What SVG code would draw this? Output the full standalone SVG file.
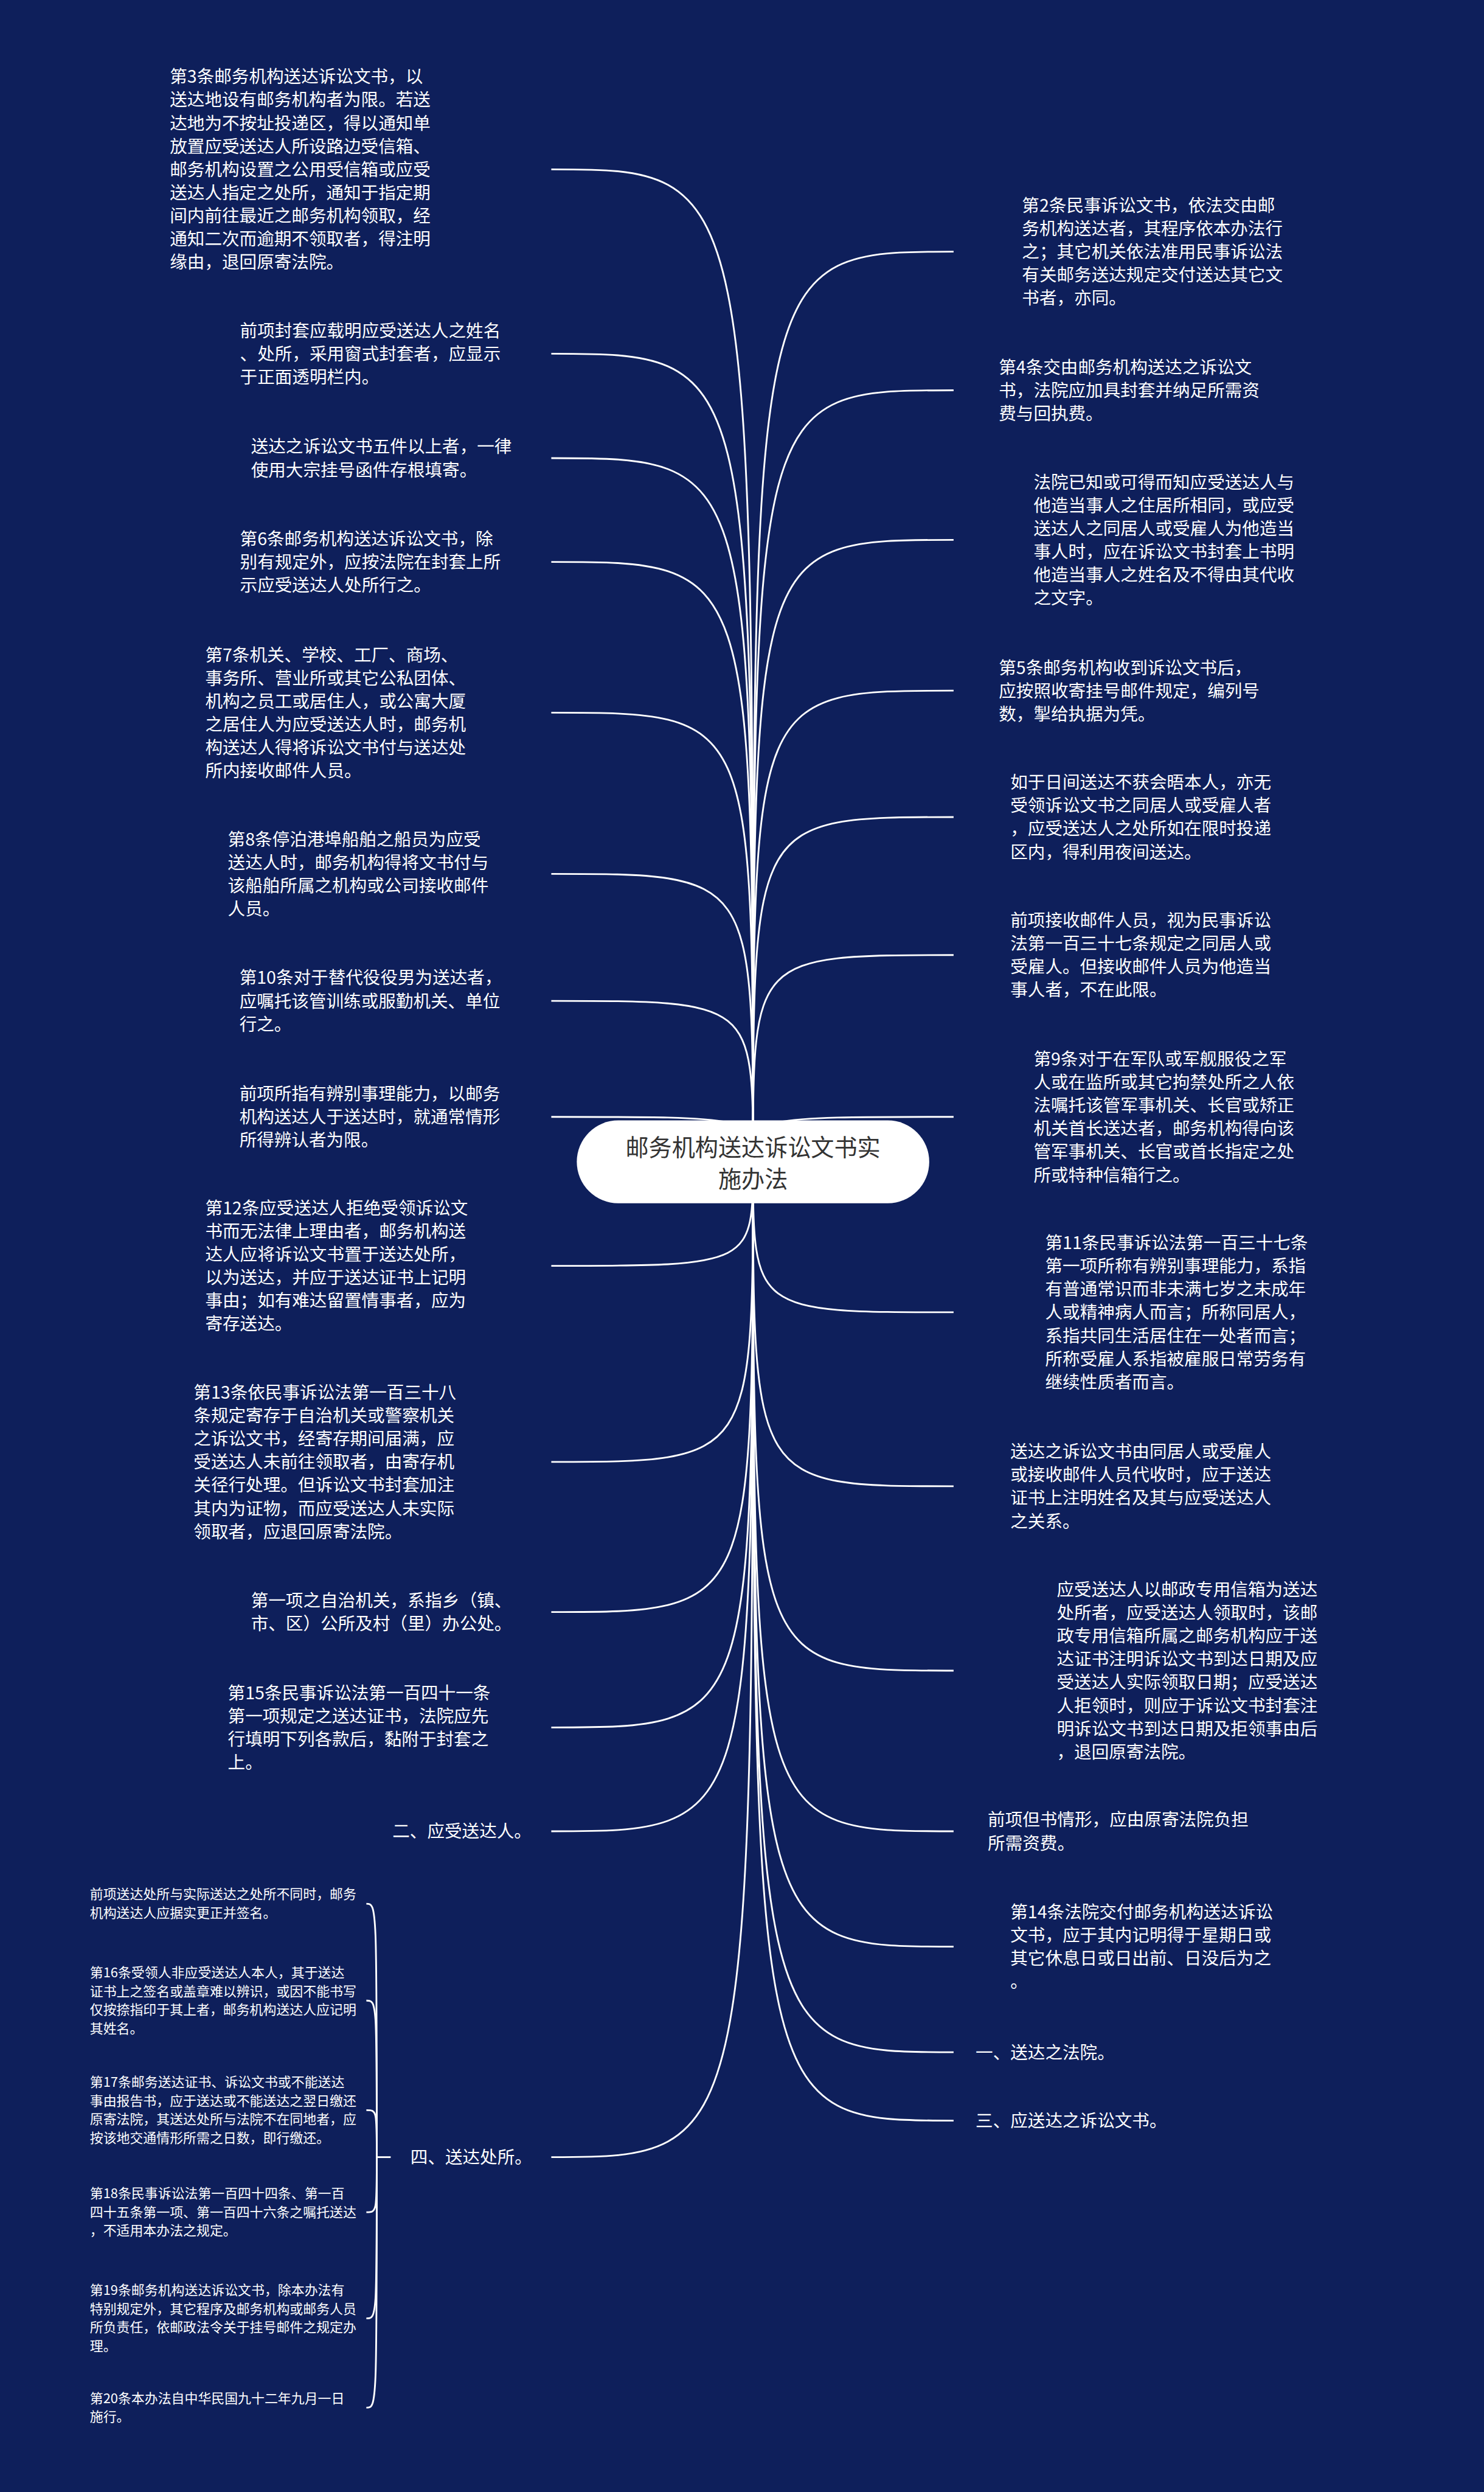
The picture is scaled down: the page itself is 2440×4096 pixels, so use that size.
<svg xmlns="http://www.w3.org/2000/svg" width="2440" height="4096" viewBox="0 0 2440 4096">
<style>
.t{font-family:"Noto Sans CJK SC","Noto Sans",sans-serif;font-size:30px;fill:#ffffff}
.s{font-size:23px}
.c{fill:none;stroke:#ffffff;stroke-width:3}
.root-t{font-family:"Noto Sans CJK SC","Noto Sans",sans-serif;font-size:40px;fill:#333333}
</style>
<rect x="0" y="0" width="2440" height="4096" fill="#0e1f5b"/>
<g transform="scale(0.953125)">
<g id="connectors">
<path class="c" d="M951 292 C1299 292 1299 292 1299 2003"/>
<path class="c" d="M951 610 C1299 610 1299 610 1299 2003"/>
<path class="c" d="M951 790 C1299 790 1299 790 1299 2003"/>
<path class="c" d="M951 969 C1299 969 1299 969 1299 2003"/>
<path class="c" d="M951 1229 C1299 1229 1299 1229 1299 2003"/>
<path class="c" d="M951 1507 C1299 1507 1299 1507 1299 2003"/>
<path class="c" d="M951 1726 C1299 1726 1299 1726 1299 2003"/>
<path class="c" d="M951 1926 C1299 1926 1299 1926 1299 2003"/>
<path class="c" d="M951 2183 C1299 2183 1299 2183 1299 2003"/>
<path class="c" d="M951 2521 C1299 2521 1299 2521 1299 2003"/>
<path class="c" d="M951 2780 C1299 2780 1299 2780 1299 2003"/>
<path class="c" d="M951 2979 C1299 2979 1299 2979 1299 2003"/>
<path class="c" d="M951 3158 C1299 3158 1299 3158 1299 2003"/>
<path class="c" d="M951 3720 C1299 3720 1299 3720 1299 2003"/>
<path class="c" d="M1645 434 C1299 434 1299 434 1299 2003"/>
<path class="c" d="M1645 673 C1299 673 1299 673 1299 2003"/>
<path class="c" d="M1645 931 C1299 931 1299 931 1299 2003"/>
<path class="c" d="M1645 1191 C1299 1191 1299 1191 1299 2003"/>
<path class="c" d="M1645 1409 C1299 1409 1299 1409 1299 2003"/>
<path class="c" d="M1645 1647 C1299 1647 1299 1647 1299 2003"/>
<path class="c" d="M1645 1926 C1299 1926 1299 1926 1299 2003"/>
<path class="c" d="M1645 2263 C1299 2263 1299 2263 1299 2003"/>
<path class="c" d="M1645 2563 C1299 2563 1299 2563 1299 2003"/>
<path class="c" d="M1645 2881 C1299 2881 1299 2881 1299 2003"/>
<path class="c" d="M1645 3158 C1299 3158 1299 3158 1299 2003"/>
<path class="c" d="M1645 3357 C1299 3357 1299 3357 1299 2003"/>
<path class="c" d="M1645 3539 C1299 3539 1299 3539 1299 2003"/>
<path class="c" d="M1645 3657 C1299 3657 1299 3657 1299 2003"/>
<path class="c" d="M674 3720 H650"/>
<path class="c" d="M632 3283 C650 3283 650 3283 650 3720"/>
<path class="c" d="M632 3450 C650 3450 650 3450 650 3720"/>
<path class="c" d="M632 3639 C650 3639 650 3639 650 3720"/>
<path class="c" d="M632 3815 C650 3815 650 3815 650 3720"/>
<path class="c" d="M632 3998 C650 3998 650 3998 650 3720"/>
<path class="c" d="M632 4152 C650 4152 650 4152 650 3720"/>
</g>
<g id="root">
<rect x="995" y="1932" width="608" height="143" rx="71.5" fill="#ffffff"/>
<text class="root-t" text-anchor="middle"><tspan x="1299" y="1993">邮务机构送达诉讼文书实</tspan><tspan x="1299" y="2048">施办法</tspan></text>
</g>
<g id="L1"><text class="t"><tspan x="293" y="143">第3条邮务机构送达诉讼文书，以</tspan><tspan x="293" y="183">送达地设有邮务机构者为限。若送</tspan><tspan x="293" y="223">达地为不按址投递区，得以通知单</tspan><tspan x="293" y="263">放置应受送达人所设路边受信箱、</tspan><tspan x="293" y="303">邮务机构设置之公用受信箱或应受</tspan><tspan x="293" y="343">送达人指定之处所，通知于指定期</tspan><tspan x="293" y="383">间内前往最近之邮务机构领取，经</tspan><tspan x="293" y="423">通知二次而逾期不领取者，得注明</tspan><tspan x="293" y="463">缘由，退回原寄法院。</tspan></text></g>
<g id="L2"><text class="t"><tspan x="414" y="581">前项封套应载明应受送达人之姓名</tspan><tspan x="414" y="621">、处所，采用窗式封套者，应显示</tspan><tspan x="414" y="661">于正面透明栏内。</tspan></text></g>
<g id="L3"><text class="t"><tspan x="433" y="781">送达之诉讼文书五件以上者，一律</tspan><tspan x="433" y="821">使用大宗挂号函件存根填寄。</tspan></text></g>
<g id="L4"><text class="t"><tspan x="414" y="940">第6条邮务机构送达诉讼文书，除</tspan><tspan x="414" y="980">别有规定外，应按法院在封套上所</tspan><tspan x="414" y="1020">示应受送达人处所行之。</tspan></text></g>
<g id="L5"><text class="t"><tspan x="354" y="1140">第7条机关、学校、工厂、商场、</tspan><tspan x="354" y="1180">事务所、营业所或其它公私团体、</tspan><tspan x="354" y="1220">机构之员工或居住人，或公寓大厦</tspan><tspan x="354" y="1260">之居住人为应受送达人时，邮务机</tspan><tspan x="354" y="1300">构送达人得将诉讼文书付与送达处</tspan><tspan x="354" y="1340">所内接收邮件人员。</tspan></text></g>
<g id="L6"><text class="t"><tspan x="393" y="1458">第8条停泊港埠船舶之船员为应受</tspan><tspan x="393" y="1498">送达人时，邮务机构得将文书付与</tspan><tspan x="393" y="1538">该船舶所属之机构或公司接收邮件</tspan><tspan x="393" y="1578">人员。</tspan></text></g>
<g id="L7"><text class="t"><tspan x="413" y="1697">第10条对于替代役役男为送达者，</tspan><tspan x="413" y="1737">应嘱托该管训练或服勤机关、单位</tspan><tspan x="413" y="1777">行之。</tspan></text></g>
<g id="L8"><text class="t"><tspan x="413" y="1897">前项所指有辨别事理能力，以邮务</tspan><tspan x="413" y="1937">机构送达人于送达时，就通常情形</tspan><tspan x="413" y="1977">所得辨认者为限。</tspan></text></g>
<g id="L9"><text class="t"><tspan x="354" y="2094">第12条应受送达人拒绝受领诉讼文</tspan><tspan x="354" y="2134">书而无法律上理由者，邮务机构送</tspan><tspan x="354" y="2174">达人应将诉讼文书置于送达处所，</tspan><tspan x="354" y="2214">以为送达，并应于送达证书上记明</tspan><tspan x="354" y="2254">事由；如有难达留置情事者，应为</tspan><tspan x="354" y="2294">寄存送达。</tspan></text></g>
<g id="L10"><text class="t"><tspan x="334" y="2412">第13条依民事诉讼法第一百三十八</tspan><tspan x="334" y="2452">条规定寄存于自治机关或警察机关</tspan><tspan x="334" y="2492">之诉讼文书，经寄存期间届满，应</tspan><tspan x="334" y="2532">受送达人未前往领取者，由寄存机</tspan><tspan x="334" y="2572">关径行处理。但诉讼文书封套加注</tspan><tspan x="334" y="2612">其内为证物，而应受送达人未实际</tspan><tspan x="334" y="2652">领取者，应退回原寄法院。</tspan></text></g>
<g id="L11"><text class="t"><tspan x="433" y="2771">第一项之自治机关，系指乡（镇、</tspan><tspan x="433" y="2811">市、区）公所及村（里）办公处。</tspan></text></g>
<g id="L12"><text class="t"><tspan x="393" y="2930">第15条民事诉讼法第一百四十一条</tspan><tspan x="393" y="2970">第一项规定之送达证书，法院应先</tspan><tspan x="393" y="3010">行填明下列各款后，黏附于封套之</tspan><tspan x="393" y="3050">上。</tspan></text></g>
<g id="L13"><text class="t" x="677" y="3169">二、应受送达人。</text></g>
<g id="L14"><text class="t" x="708" y="3731">四、送达处所。</text></g>
<g id="S1"><text class="t s"><tspan x="155" y="3275">前项送达处所与实际送达之处所不同时，邮务</tspan><tspan x="155" y="3307">机构送达人应据实更正并签名。</tspan></text></g>
<g id="S2"><text class="t s"><tspan x="155" y="3410">第16条受领人非应受送达人本人，其于送达</tspan><tspan x="155" y="3442">证书上之签名或盖章难以辨识，或因不能书写</tspan><tspan x="155" y="3474">仅按捺指印于其上者，邮务机构送达人应记明</tspan><tspan x="155" y="3506">其姓名。</tspan></text></g>
<g id="S3"><text class="t s"><tspan x="155" y="3599">第17条邮务送达证书、诉讼文书或不能送达</tspan><tspan x="155" y="3631">事由报告书，应于送达或不能送达之翌日缴还</tspan><tspan x="155" y="3663">原寄法院，其送达处所与法院不在同地者，应</tspan><tspan x="155" y="3695">按该地交通情形所需之日数，即行缴还。</tspan></text></g>
<g id="S4"><text class="t s"><tspan x="155" y="3791">第18条民事诉讼法第一百四十四条、第一百</tspan><tspan x="155" y="3823">四十五条第一项、第一百四十六条之嘱托送达</tspan><tspan x="155" y="3855">，不适用本办法之规定。</tspan></text></g>
<g id="S5"><text class="t s"><tspan x="155" y="3958">第19条邮务机构送达诉讼文书，除本办法有</tspan><tspan x="155" y="3990">特别规定外，其它程序及邮务机构或邮务人员</tspan><tspan x="155" y="4022">所负责任，依邮政法令关于挂号邮件之规定办</tspan><tspan x="155" y="4054">理。</tspan></text></g>
<g id="S6"><text class="t s"><tspan x="155" y="4144">第20条本办法自中华民国九十二年九月一日</tspan><tspan x="155" y="4176">施行。</tspan></text></g>
<g id="R1"><text class="t"><tspan x="1763" y="365">第2条民事诉讼文书，依法交由邮</tspan><tspan x="1763" y="405">务机构送达者，其程序依本办法行</tspan><tspan x="1763" y="445">之；其它机关依法准用民事诉讼法</tspan><tspan x="1763" y="485">有关邮务送达规定交付送达其它文</tspan><tspan x="1763" y="525">书者，亦同。</tspan></text></g>
<g id="R2"><text class="t"><tspan x="1723" y="644">第4条交由邮务机构送达之诉讼文</tspan><tspan x="1723" y="684">书，法院应加具封套并纳足所需资</tspan><tspan x="1723" y="724">费与回执费。</tspan></text></g>
<g id="R3"><text class="t"><tspan x="1783" y="842">法院已知或可得而知应受送达人与</tspan><tspan x="1783" y="882">他造当事人之住居所相同，或应受</tspan><tspan x="1783" y="922">送达人之同居人或受雇人为他造当</tspan><tspan x="1783" y="962">事人时，应在诉讼文书封套上书明</tspan><tspan x="1783" y="1002">他造当事人之姓名及不得由其代收</tspan><tspan x="1783" y="1042">之文字。</tspan></text></g>
<g id="R4"><text class="t"><tspan x="1723" y="1162">第5条邮务机构收到诉讼文书后，</tspan><tspan x="1723" y="1202">应按照收寄挂号邮件规定，编列号</tspan><tspan x="1723" y="1242">数，掣给执据为凭。</tspan></text></g>
<g id="R5"><text class="t"><tspan x="1743" y="1360">如于日间送达不获会晤本人，亦无</tspan><tspan x="1743" y="1400">受领诉讼文书之同居人或受雇人者</tspan><tspan x="1743" y="1440">，应受送达人之处所如在限时投递</tspan><tspan x="1743" y="1480">区内，得利用夜间送达。</tspan></text></g>
<g id="R6"><text class="t"><tspan x="1743" y="1598">前项接收邮件人员，视为民事诉讼</tspan><tspan x="1743" y="1638">法第一百三十七条规定之同居人或</tspan><tspan x="1743" y="1678">受雇人。但接收邮件人员为他造当</tspan><tspan x="1743" y="1718">事人者，不在此限。</tspan></text></g>
<g id="R7"><text class="t"><tspan x="1783" y="1837">第9条对于在军队或军舰服役之军</tspan><tspan x="1783" y="1877">人或在监所或其它拘禁处所之人依</tspan><tspan x="1783" y="1917">法嘱托该管军事机关、长官或矫正</tspan><tspan x="1783" y="1957">机关首长送达者，邮务机构得向该</tspan><tspan x="1783" y="1997">管军事机关、长官或首长指定之处</tspan><tspan x="1783" y="2037">所或特种信箱行之。</tspan></text></g>
<g id="R8"><text class="t"><tspan x="1803" y="2154">第11条民事诉讼法第一百三十七条</tspan><tspan x="1803" y="2194">第一项所称有辨别事理能力，系指</tspan><tspan x="1803" y="2234">有普通常识而非未满七岁之未成年</tspan><tspan x="1803" y="2274">人或精神病人而言；所称同居人，</tspan><tspan x="1803" y="2314">系指共同生活居住在一处者而言；</tspan><tspan x="1803" y="2354">所称受雇人系指被雇服日常劳务有</tspan><tspan x="1803" y="2394">继续性质者而言。</tspan></text></g>
<g id="R9"><text class="t"><tspan x="1743" y="2514">送达之诉讼文书由同居人或受雇人</tspan><tspan x="1743" y="2554">或接收邮件人员代收时，应于送达</tspan><tspan x="1743" y="2594">证书上注明姓名及其与应受送达人</tspan><tspan x="1743" y="2634">之关系。</tspan></text></g>
<g id="R10"><text class="t"><tspan x="1823" y="2752">应受送达人以邮政专用信箱为送达</tspan><tspan x="1823" y="2792">处所者，应受送达人领取时，该邮</tspan><tspan x="1823" y="2832">政专用信箱所属之邮务机构应于送</tspan><tspan x="1823" y="2872">达证书注明诉讼文书到达日期及应</tspan><tspan x="1823" y="2912">受送达人实际领取日期；应受送达</tspan><tspan x="1823" y="2952">人拒领时，则应于诉讼文书封套注</tspan><tspan x="1823" y="2992">明诉讼文书到达日期及拒领事由后</tspan><tspan x="1823" y="3032">，退回原寄法院。</tspan></text></g>
<g id="R11"><text class="t"><tspan x="1704" y="3149">前项但书情形，应由原寄法院负担</tspan><tspan x="1704" y="3189">所需资费。</tspan></text></g>
<g id="R12"><text class="t"><tspan x="1743" y="3308">第14条法院交付邮务机构送达诉讼</tspan><tspan x="1743" y="3348">文书，应于其内记明得于星期日或</tspan><tspan x="1743" y="3388">其它休息日或日出前、日没后为之</tspan><tspan x="1743" y="3428">。</tspan></text></g>
<g id="R13"><text class="t" x="1683" y="3550">一、送达之法院。</text></g>
<g id="R14"><text class="t" x="1683" y="3668">三、应送达之诉讼文书。</text></g>
</g>
</svg>
